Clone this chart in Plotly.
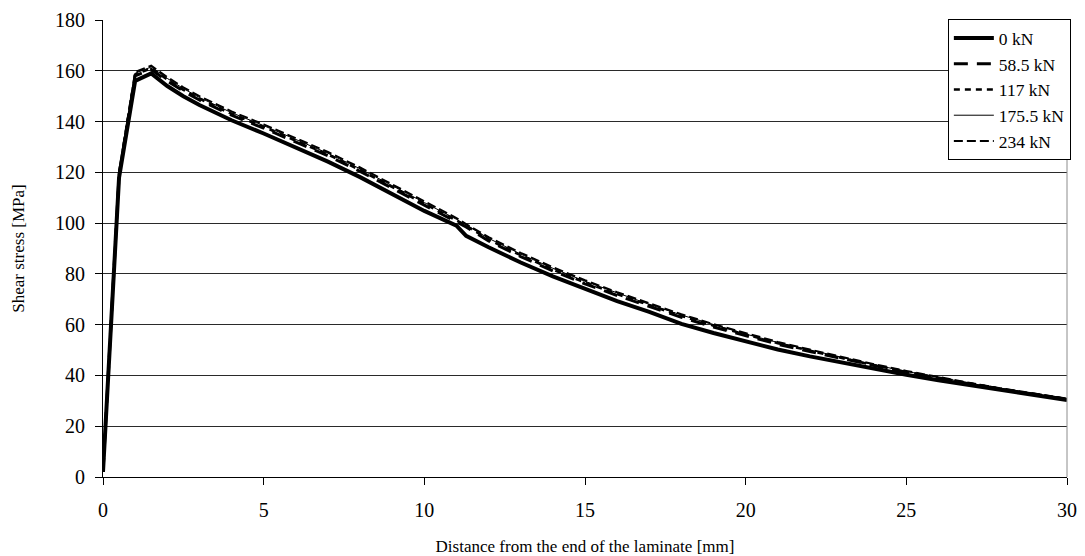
import plotly.graph_objects as go

# Distance from the laminate end [mm]
distance_mm = [0, 0.5, 1, 1.5, 2, 2.5, 3, 3.5, 4, 5, 6, 7, 8, 9, 10, 11, 11.3,
               12, 13, 14, 15, 16, 17, 18, 19, 20, 21, 22, 23, 24, 25, 26, 27,
               28, 29, 30]

# Shear stress [MPa] for each load level
stress_0kN = [2, 118, 156, 159, 154, 150, 146.5, 143.5, 140.5, 135.3, 129.9,
              124.2, 118.1, 111.6, 104.8, 99, 95, 90.5, 84.5, 79, 74, 69.3, 65,
              60.3, 56.7, 53.3, 50.2, 47.5, 45, 42.6, 40.3, 38.1, 36.1, 34.2,
              32.3, 30.3]
stress_58_5kN = [2, 119, 158, 160.5, 156, 152, 148.5, 145.5, 142.5, 137.4,
                 132.1, 126.5, 120.4, 113.9, 107.1, 100.5, 98.5, 93, 86.8,
                 81.2, 76.1, 71.5, 67.1, 62.9, 59.1, 55.6, 52.3, 49.4, 46.6,
                 43.8, 41.2, 38.8, 36.6, 34.5, 32.6, 30.6]
stress_117kN = [2, 119.5, 158.5, 161, 156.5, 152.5, 149, 146, 143, 137.9,
                132.6, 127, 120.9, 114.4, 107.6, 101, 99, 93.5, 87.3, 81.7,
                76.6, 72, 67.6, 63.4, 59.6, 56, 52.7, 49.7, 46.8, 44, 41.4,
                39, 36.8, 34.6, 32.7, 30.7]
stress_175_5kN = [2, 120, 159, 161.5, 157, 153, 149.5, 146.5, 143.5, 138.4,
                  133.1, 127.5, 121.4, 114.9, 108.1, 101.5, 99.3, 94, 87.8,
                  82.2, 77.1, 72.4, 68, 63.8, 59.9, 56.3, 53, 50, 47, 44.2,
                  41.6, 39.1, 36.9, 34.7, 32.8, 30.8]
stress_234kN = [2, 120.5, 159.5, 162, 157.5, 153.5, 150, 147, 144, 138.9,
                133.6, 128, 121.9, 115.4, 108.6, 102, 99.6, 94.5, 88.3, 82.6,
                77.5, 72.8, 68.3, 64.1, 60.2, 56.6, 53.2, 50.2, 47.2, 44.4,
                41.8, 39.3, 37, 34.8, 32.9, 30.9]

series_names = ["0 kN", "58.5 kN", "117 kN", "175.5 kN", "234 kN"]
series_values = [stress_0kN, stress_58_5kN, stress_117kN, stress_175_5kN,
                 stress_234kN]

x_ticks = [0, 5, 10, 15, 20, 25, 30]
y_ticks = [0, 20, 40, 60, 80, 100, 120, 140, 160, 180]

line_styles = [
    dict(width=4, dash="solid"),
    dict(width=3, dash="14px,9px"),
    dict(width=2.5, dash="6px,5px"),
    dict(width=1, dash="solid"),
    dict(width=2, dash="9px,4px"),
]

SERIF = "Liberation Serif, Times New Roman, serif"

fig = go.Figure()
# draw the unloaded case last so it sits on top
order = [1, 2, 3, 4, 0]
for i in order:
    fig.add_trace(go.Scatter(
        x=distance_mm, y=series_values[i], name=series_names[i],
        mode="lines", line=dict(color="black", **line_styles[i]),
        legendrank=i + 1,
    ))

fig.update_layout(
    width=1085, height=556,
    margin=dict(l=103, r=18, t=20, b=79, autoexpand=False),
    paper_bgcolor="white", plot_bgcolor="white",
    font=dict(family=SERIF, color="black", size=19),
    showlegend=True,
    legend=dict(
        x=1.004, xanchor="right", y=1.002, yanchor="top",
        bgcolor="white", bordercolor="black", borderwidth=1,
        font=dict(family=SERIF, size=17.5, color="black"),
        itemwidth=40, tracegroupgap=0,
    ),
    xaxis=dict(
        range=[0, 30], tickvals=x_ticks, ticktext=[str(v) for v in x_ticks],
        showgrid=False, zeroline=False, automargin=False,
        showline=True, linecolor="black", linewidth=1,
        ticks="outside", ticklen=7, tickcolor="black",
        tickfont=dict(size=20), ticklabelstandoff=8,
        title=dict(text="Distance from the end of the laminate [mm]",
                   font=dict(size=17), standoff=20),
    ),
    yaxis=dict(
        range=[0, 180], tickvals=y_ticks, ticktext=[str(v) for v in y_ticks],
        showgrid=True, gridcolor="#2a2a2a", gridwidth=1, zeroline=False,
        automargin=False,
        showline=True, linecolor="black", linewidth=1,
        ticks="outside", ticklen=7, tickcolor="black",
        tickfont=dict(size=20), ticklabelstandoff=6,
        title=dict(text="Shear stress [MPa]", font=dict(size=17), standoff=26),
    ),
    shapes=[dict(type="line", xref="paper", yref="paper", x0=1, x1=1,
                 y0=0, y1=1, line=dict(color="#8c8c8c", width=1))],
)

fig.write_html("out.html")
